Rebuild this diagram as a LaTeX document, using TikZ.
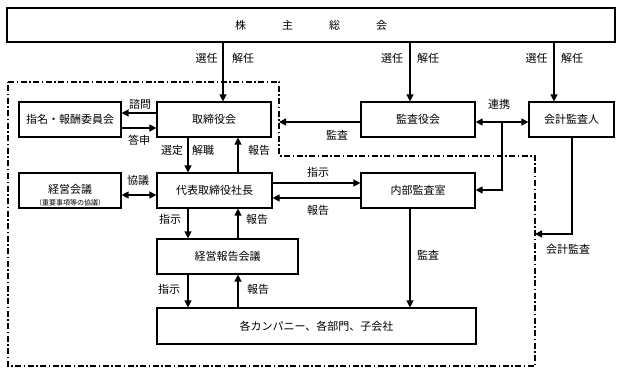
\documentclass[tikz,border=0pt]{standalone}
\usepackage{fontspec}
\setmainfont{Noto Sans CJK JP}
\usetikzlibrary{arrows.meta,calc}
\begin{document}
\begin{tikzpicture}[x=1pt,y=-1pt,
  box/.style={draw, line width=1.2pt, inner sep=0pt, font=\fontsize{11}{13}\selectfont},
  arr/.style={line width=1.3pt, -{Triangle[length=7pt,width=7pt]}},
  darr/.style={line width=1.3pt, {Triangle[length=7pt,width=7pt]}-{Triangle[length=7pt,width=7pt]}},
  ln/.style={line width=1.3pt},
  lbl/.style={inner sep=0pt, font=\fontsize{11}{13}\selectfont},
  region/.style={line width=1.2pt, dash pattern=on 6pt off 2.5pt on 1.5pt off 2.5pt}]
\useasboundingbox (0,0) rectangle (623,374);

% region
\coordinate (r1) at (8,82);
\coordinate (r2) at (279,82);
\coordinate (r3) at (279,156);
\coordinate (r4) at (535,156);
\coordinate (r5) at (535,366);
\coordinate (r6) at (8,366);
\draw[region] (r1) -- (r2) -- (r3) -- (r4) -- (r5) -- (r6) -- cycle;

% boxes
\node[box, minimum width=608pt, minimum height=34pt] (soukai) at (311,25)
  {株\hspace{36pt}主\hspace{36pt}総\hspace{36pt}会};
\node[box, minimum width=102pt, minimum height=35pt] (shimei) at (70,119.5) {指名・報酬委員会};
\node[box, minimum width=114pt, minimum height=35pt] (torishimari) at (214,119.5) {取締役会};
\node[box, minimum width=114pt, minimum height=35pt] (kansayaku) at (418,119.5) {監査役会};
\node[box, minimum width=85pt, minimum height=35pt] (kaikei) at (571.5,119.5) {会計監査人};
\node[box, minimum width=102pt, minimum height=35pt] (keiei) at (70,190.5) {};
\node[lbl] (keieiT) at (70,189) {経営会議};
\node[inner sep=0pt, font=\fontsize{7}{8}\selectfont] (keieiS) at (70,203) {（重要事項等の協議）};
\node[box, minimum width=115pt, minimum height=35pt] (daihyo) at (214.5,190.5) {代表取締役社長};
\node[box, minimum width=114pt, minimum height=35pt] (naibu) at (418,190.5) {内部監査室};
\node[box, minimum width=141pt, minimum height=35pt] (houkoku) at (227.5,256.5) {経営報告会議};
\node[box, minimum width=319pt, minimum height=36pt] (kaku) at (316.5,326) {各カンパニー、各部門、子会社};

% helper coordinates
\coordinate (xa) at (223,0);
\coordinate (xb) at (410,0);
\coordinate (xc) at (554,0);
\coordinate (xd) at (188,0);
\coordinate (xe) at (238,0);
\coordinate (xg) at (502,0);
\coordinate (xh) at (572,0);
\coordinate (y1) at (0,113);
\coordinate (y2) at (0,128);
\coordinate (y3) at (0,122);
\coordinate (y4) at (0,195);
\coordinate (y5) at (0,183);
\coordinate (y6) at (0,198);
\coordinate (y7) at (0,190);
\coordinate (y8) at (0,234);

% top arrows
\draw[arr] (soukai.south -| xa) -- (torishimari.north -| xa);
\draw[arr] (soukai.south -| xb) -- (kansayaku.north -| xb);
\draw[arr] (soukai.south -| xc) -- (kaikei.north -| xc);
\node[lbl] (t1a) at (206.5,58) {選任};
\node[lbl] (t1b) at (243,58) {解任};
\node[lbl] (t2a) at (392,58) {選任};
\node[lbl] (t2b) at (428,58) {解任};
\node[lbl] (t3a) at (536.5,58) {選任};
\node[lbl] (t3b) at (572,58) {解任};

% committee
\draw[arr] (torishimari.west |- y1) -- (shimei.east |- y1);
\draw[arr] (shimei.east |- y2) -- (torishimari.west |- y2);
\node[lbl] (l1) at (140,104) {諮問};
\node[lbl] (l2) at (139,140) {答申};

% board <-> president
\draw[arr] (torishimari.south -| xd) -- (daihyo.north -| xd);
\draw[arr] (daihyo.north -| xe) -- (torishimari.south -| xe);
\node[lbl] (l3) at (172,150) {選定};
\node[lbl] (l4) at (203,150) {解職};
\node[lbl] (l5) at (259,150) {報告};

% management meeting
\draw[darr] (keiei.east |- y4) -- (daihyo.west |- y4);
\node[lbl] (l6) at (138,180) {協議};

% president <-> internal audit
\draw[arr] (daihyo.east |- y5) -- (naibu.west |- y5);
\draw[arr] (naibu.west |- y6) -- (daihyo.east |- y6);
\node[lbl] (l7) at (318,172) {指示};
\node[lbl] (l8) at (318,210) {報告};

% audit board
\draw[arr] (kansayaku.west |- y3) -- (r3 |- y3);
\node[lbl] (l9) at (337,135) {監査};
\draw[darr] (kansayaku.east |- y3) -- (kaikei.west |- y3);
\node[lbl] (l10) at (499,104) {連携};
\draw[ln, -{Triangle[length=7pt,width=7pt]}] (xg |- y3) -- (xg |- y7) -- (naibu.east |- y7);

% president <-> report meeting
\draw[arr] (daihyo.south -| xd) -- (houkoku.north -| xd);
\draw[arr] (houkoku.north -| xe) -- (daihyo.south -| xe);
\node[lbl] (l11) at (170,219) {指示};
\node[lbl] (l12) at (257,219) {報告};

% report meeting <-> companies
\draw[arr] (houkoku.south -| xd) -- (kaku.north -| xd);
\draw[arr] (kaku.north -| xe) -- (houkoku.south -| xe);
\node[lbl] (l13) at (169,289) {指示};
\node[lbl] (l14) at (258,289) {報告};

% internal audit -> companies
\draw[arr] (naibu.south -| xb) -- (kaku.north -| xb);
\node[lbl] (l15) at (428,255) {監査};

% accounting audit
\draw[arr] (kaikei.south -| xh) -- (xh |- y8) -- (r4 |- y8);
\node[lbl] (l16) at (568,249) {会計監査};
\end{tikzpicture}
\end{document}
